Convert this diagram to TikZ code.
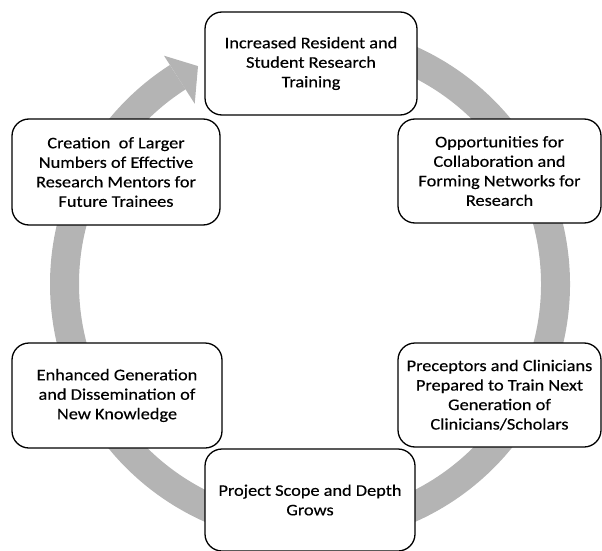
\documentclass[tikz,border=0pt]{standalone}
\usepackage{fontspec}
\setmainfont{Carlito}[FakeStretch=1.13,FakeBold=0.35]
\usetikzlibrary{calc}
\definecolor{ringgray}{RGB}{180,180,180}
\tikzset{
  stagebox/.style={draw=black, line width=1.3pt, rounded corners=17pt, fill=white,
    align=center, inner sep=0pt, font=\fontsize{16.2}{19.5}\selectfont},
}
\begin{document}
\begin{tikzpicture}[x=1pt,y=1pt]
\useasboundingbox (0,0) rectangle (602,550);
\coordinate (c) at (310,266);
% ring arrow
\draw[ringgray, line width=29pt] ($(c)+(95:245.5)$) arc[start angle=95, end angle=-237.4, radius=245.5];
\fill[ringgray] ($(c)+(122.6:214)$) -- ($(c)+(122.6:271)$) -- ($(c)+(117.2:245)$) -- cycle;
% boxes
\node[stagebox, minimum width=212pt, minimum height=103pt] (top) at (311,486.5)
  {Increased Resident and\\Student Research\\Training};
\node[stagebox, minimum width=203pt, minimum height=104pt] (ru) at (499.5,379)
  {Opportunities for\\Collaboration and\\Forming Networks for\\Research};
\node[stagebox, minimum width=203pt, minimum height=104pt] (rl) at (499.5,155)
  {Preceptors and Clinicians\\Prepared to Train Next\\Generation of\\Clinicians/Scholars};
\node[stagebox, minimum width=210pt, minimum height=102pt] (bot) at (310,50)
  {Project Scope and Depth\\Grows};
\node[stagebox, minimum width=210pt, minimum height=105pt] (ll) at (117,154.5)
  {Enhanced Generation\\and Dissemination of\\New Knowledge};
\node[stagebox, minimum width=208pt, minimum height=106pt] (lu) at (116,378)
  {Creation~ of Larger\\Numbers of Effective\\Research Mentors for\\Future Trainees};
\end{tikzpicture}
\end{document}
